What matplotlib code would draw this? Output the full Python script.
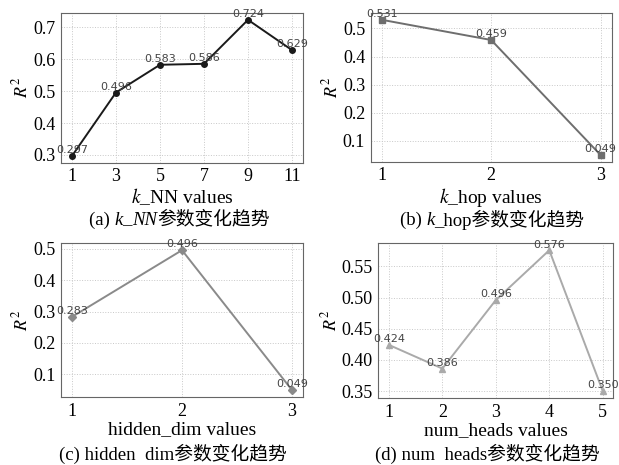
import matplotlib
matplotlib.use("Agg")
import matplotlib.pyplot as plt
from matplotlib.ticker import MultipleLocator

plt.rcParams['font.family'] = ['Liberation Serif', 'Noto Sans CJK SC']
plt.rcParams['mathtext.fontset'] = 'stix'

# data
knn_x = [1, 3, 5, 7, 9, 11]
knn_r2 = [0.297, 0.496, 0.583, 0.586, 0.724, 0.629]
khop_x = [1, 2, 3]
khop_r2 = [0.531, 0.459, 0.049]
hdim_x = [1, 2, 3]
hdim_r2 = [0.283, 0.496, 0.049]
heads_x = [1, 2, 3, 4, 5]
heads_r2 = [0.424, 0.386, 0.496, 0.576, 0.350]

W, H = 619, 465
fig = plt.figure(figsize=(W / 100, H / 100), dpi=100)
renderer = fig.canvas.get_renderer()

def Caption(cx, cy, pieces):
    # pieces: (text, italic) drawn one after another, centred on cx (pixels)
    texts = []
    total = 0
    for s, it in pieces:
        t = fig.text(0, 1 - cy / H, s, fontsize=13.5, va="center", ha="left",
                     style="italic" if it else "normal")
        w = t.get_window_extent(renderer).width
        texts.append((t, w))
        total += w
    x = cx - total / 2
    for t, w in texts:
        t.set_x(x / W)
        x += w

def Panel(rect, x, y, color, marker, xlabel, step):
    ax = fig.add_axes(rect)
    ax.plot(x, y, color=color, marker=marker, markersize=4, linewidth=1.4)
    for xi, yi in zip(x, y):
        ax.annotate("%.3f" % yi, (xi, yi), xytext=(0, 0.5), textcoords="offset points",
                    ha="center", va="bottom", fontsize=8, color="#444444",
                    family="DejaVu Sans")
    ax.set_xticks(x)
    ax.yaxis.set_major_locator(MultipleLocator(step))
    ax.grid(True, linestyle=":", color="#c8c8c8", linewidth=0.7)
    ax.tick_params(length=0, labelsize=13, pad=4)
    for s in ax.spines.values():
        s.set_color("#666666")
    ax.set_ylabel("$R^2$", fontsize=13, labelpad=1)
    ax.set_xlabel(xlabel, fontsize=14, labelpad=1)
    return ax

Panel([0.0985, 0.650, 0.391, 0.322], knn_x, knn_r2, "#1a1a1a", "o",
      "$k$_NN values", 0.1)
Panel([0.599, 0.652, 0.389, 0.320], khop_x, khop_r2, "#6e6e6e", "s",
      "$k$_hop values", 0.1)
Panel([0.0985, 0.146, 0.391, 0.331], hdim_x, hdim_r2, "#8a8a8a", "D",
      "hidden_dim values", 0.1)
Panel([0.611, 0.144, 0.380, 0.333], heads_x, heads_r2, "#aaaaaa", "^",
      "num_heads values", 0.05)

Caption(179, 220, [("(a) ", False), ("k", True), ("_", False), ("NN", True), ("参数变化趋势", False)])
Caption(492, 220, [("(b) ", False), ("k", True), ("_hop参数变化趋势", False)])
Caption(173, 454, [("(c) hidden  dim参数变化趋势", False)])
Caption(487, 454, [("(d) num  heads参数变化趋势", False)])

plt.savefig("out.png", dpi=100)
